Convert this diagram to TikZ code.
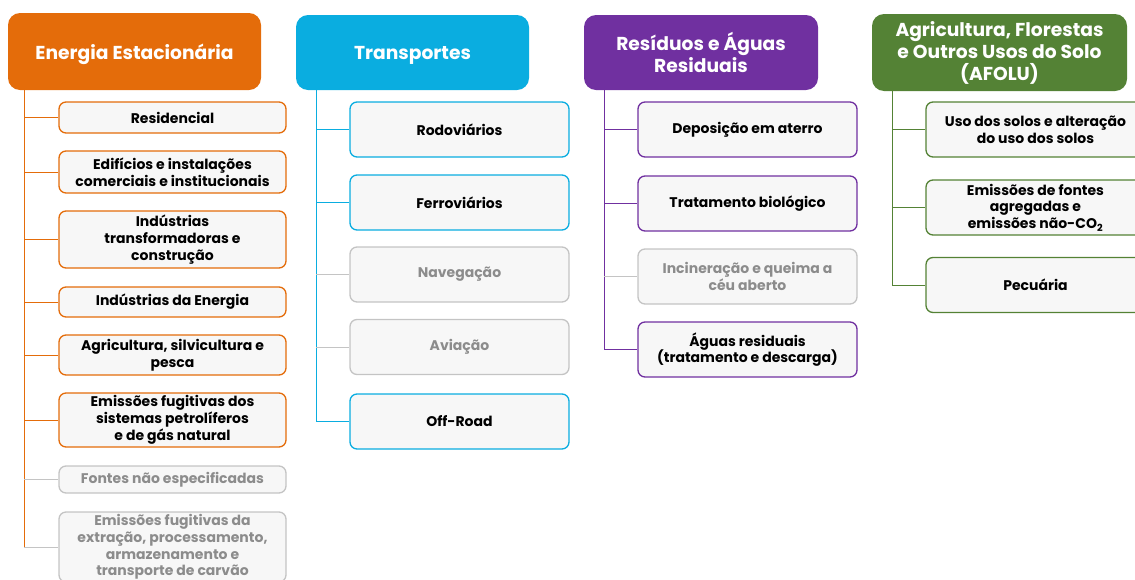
\documentclass[tikz,border=0pt]{standalone}
\usepackage{fontspec}
\setmainfont{Poppins}
\definecolor{escol}{HTML}{E46C0A}
\definecolor{trcol}{HTML}{0AADE0}
\definecolor{rscol}{HTML}{7030A0}
\definecolor{afcol}{HTML}{548235}
\definecolor{boxfill}{HTML}{F7F7F7}
\definecolor{offline}{HTML}{C4C4C4}
\definecolor{offtext}{HTML}{8C8C8C}

\begin{document}
\begin{tikzpicture}[x=1pt,y=-1pt,
    hdr/.style={rounded corners=12, text=white, align=center, inner sep=0,
      font=\bfseries\fontsize{18.7}{22}\selectfont},
    leaf/.style={draw, rounded corners=7, fill=boxfill, line width=1.3,
      align=center, inner sep=0, text=black,
      font=\bfseries\fontsize{14}{16.8}\selectfont},
    off/.style={draw=offline, text=offtext},
    link/.style={line width=0.9}]
  \clip (0,0) rectangle (1135,579);
  % Energia Estacionaria
  \node[hdr, fill=escol, minimum width=253, minimum height=77, text depth=0pt] (es) at (134.5,51.5) {Energia Estacionária};
  \begin{scope}[leaf/.append style={draw=escol, minimum width=227}]
    \node[leaf, minimum height=31] (res) at (172.5,117.5) {Residencial};
    \node[leaf, minimum height=42] (edi) at (172.5,172) {Edifícios e instalações\\comerciais e institucionais};
    \node[leaf, minimum height=57] (ind) at (172.5,239.5) {Indústrias\\transformadoras e\\construção};
    \node[leaf, minimum height=30] (ene) at (172.5,302) {Indústrias da Energia};
    \node[leaf, minimum height=40] (agr) at (172.5,355) {Agricultura, silvicultura e\\pesca};
    \node[leaf, minimum height=54] (fug) at (172.5,420) {Emissões fugitivas dos\\sistemas petrolíferos\\e de gás natural};
    \node[leaf, off, minimum height=27] (fne) at (172.5,479.5) {Fontes não especificadas};
    \node[leaf, off, minimum height=70] (car) at (172.5,547) {Emissões fugitivas da\\extração, processamento,\\armazenamento e\\transporte de carvão};
  \end{scope}
  \coordinate (esT) at (24,90);
  \draw[link, escol] (esT) -- (esT |- car.west);
  \foreach \n in {res,edi,ind,ene,agr,fug}
    \draw[link, escol] (esT |- \n.west) -- (\n.west);
  \foreach \n in {fne,car}
    \draw[link, offline] (esT |- \n.west) -- (\n.west);

  % Transportes
  \node[hdr, fill=trcol, minimum width=233, minimum height=75, text depth=0pt] (tr) at (412.5,52.5) {Transportes};
  \begin{scope}[leaf/.append style={draw=trcol, minimum width=219, minimum height=55}]
    \node[leaf] (rod) at (459.5,129.5) {Rodoviários};
    \node[leaf] (fer) at (459.5,202.5) {Ferroviários};
    \node[leaf, off] (nav) at (459.5,274.5) {Navegação};
    \node[leaf, off] (avi) at (459.5,347) {Aviação};
    \node[leaf] (ofr) at (459.5,421.5) {Off-Road};
  \end{scope}
  \coordinate (trT) at (316,90);
  \draw[link, trcol] (trT) -- (trT |- ofr.west);
  \foreach \n in {rod,fer,ofr}
    \draw[link, trcol] (trT |- \n.west) -- (\n.west);
  \foreach \n in {nav,avi}
    \draw[link, offline] (trT |- \n.west) -- (\n.west);

  % Residuos
  \node[hdr, fill=rscol, minimum width=234, minimum height=75] (rs) at (701,52.5) {Resíduos e Águas\\Residuais};
  \begin{scope}[leaf/.append style={draw=rscol, minimum width=219, minimum height=55}]
    \node[leaf] (dep) at (747.5,129.5) {Deposição em aterro};
    \node[leaf] (bio) at (747.5,203.5) {Tratamento biológico};
    \node[leaf, off] (inc) at (747.5,276.5) {Incineração e queima a\\céu aberto};
    \node[leaf] (agu) at (747.5,349.5) {Águas residuais\\(tratamento e descarga)};
  \end{scope}
  \coordinate (rsT) at (604,90);
  \draw[link, rscol] (rsT) -- (rsT |- agu.west);
  \foreach \n in {dep,bio,agu}
    \draw[link, rscol] (rsT |- \n.west) -- (\n.west);
  \draw[link, offline] (rsT |- inc.west) -- (inc.west);

  % AFOLU
  \node[hdr, fill=afcol, minimum width=255, minimum height=77] (af) at (999.5,52.5) {Agricultura, Florestas\\e Outros Usos do Solo\\(AFOLU)};
  \begin{scope}[leaf/.append style={draw=afcol, minimum width=219, minimum height=55}]
    \node[leaf] (uso) at (1035.5,129.5) {Uso dos solos e alteração\\do uso dos solos};
    \node[leaf] (agg) at (1035.5,207.5) {Emissões de fontes\\agregadas e\\emissões não-CO\textsubscript{2}};
    \node[leaf] (pec) at (1035.5,285) {Pecuária};
  \end{scope}
  \coordinate (afT) at (892,90);
  \draw[link, afcol] (afT) -- (afT |- pec.west);
  \foreach \n in {uso,agg,pec}
    \draw[link, afcol] (afT |- \n.west) -- (\n.west);
\end{tikzpicture}
\end{document}
